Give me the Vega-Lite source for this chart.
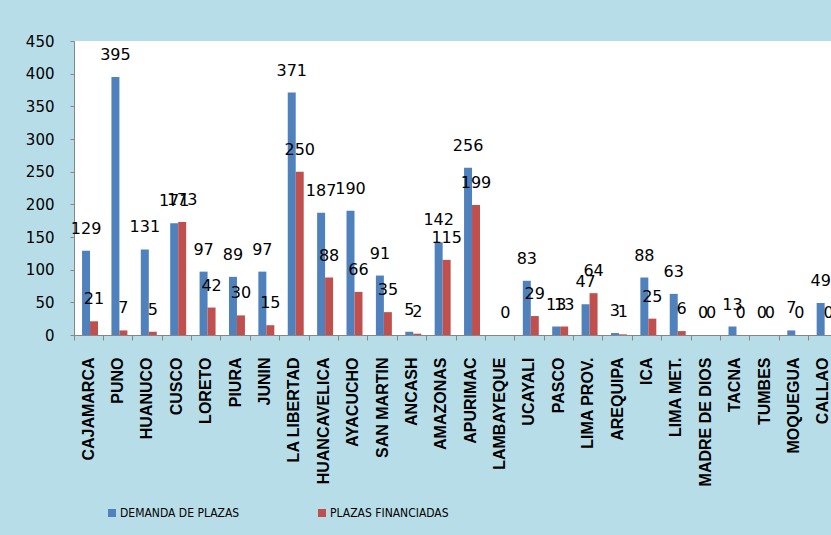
{
  "$schema": "https://vega.github.io/schema/vega-lite/v6.json",
  "autosize": {"type": "none"},
  "padding": {"left": 74, "top": 41, "right": -7, "bottom": 200},
  "width": 764,
  "height": 294,
  "background": "#b7dee8",
  "config": {
    "view": {"fill": "white", "stroke": null},
    "axis": {"domainColor": "#868686", "tickColor": "#868686", "labelColor": "#000000", "grid": false}
  },
  "data": {
    "values": [
      {"dep": "CAJAMARCA", "serie": "DEMANDA DE PLAZAS", "valor": 129},
      {"dep": "CAJAMARCA", "serie": "PLAZAS FINANCIADAS", "valor": 21},
      {"dep": "PUNO", "serie": "DEMANDA DE PLAZAS", "valor": 395},
      {"dep": "PUNO", "serie": "PLAZAS FINANCIADAS", "valor": 7},
      {"dep": "HUANUCO", "serie": "DEMANDA DE PLAZAS", "valor": 131},
      {"dep": "HUANUCO", "serie": "PLAZAS FINANCIADAS", "valor": 5},
      {"dep": "CUSCO", "serie": "DEMANDA DE PLAZAS", "valor": 171},
      {"dep": "CUSCO", "serie": "PLAZAS FINANCIADAS", "valor": 173},
      {"dep": "LORETO", "serie": "DEMANDA DE PLAZAS", "valor": 97},
      {"dep": "LORETO", "serie": "PLAZAS FINANCIADAS", "valor": 42},
      {"dep": "PIURA", "serie": "DEMANDA DE PLAZAS", "valor": 89},
      {"dep": "PIURA", "serie": "PLAZAS FINANCIADAS", "valor": 30},
      {"dep": "JUNIN", "serie": "DEMANDA DE PLAZAS", "valor": 97},
      {"dep": "JUNIN", "serie": "PLAZAS FINANCIADAS", "valor": 15},
      {"dep": "LA LIBERTAD", "serie": "DEMANDA DE PLAZAS", "valor": 371},
      {"dep": "LA LIBERTAD", "serie": "PLAZAS FINANCIADAS", "valor": 250},
      {"dep": "HUANCAVELICA", "serie": "DEMANDA DE PLAZAS", "valor": 187},
      {"dep": "HUANCAVELICA", "serie": "PLAZAS FINANCIADAS", "valor": 88},
      {"dep": "AYACUCHO", "serie": "DEMANDA DE PLAZAS", "valor": 190},
      {"dep": "AYACUCHO", "serie": "PLAZAS FINANCIADAS", "valor": 66},
      {"dep": "SAN MARTIN", "serie": "DEMANDA DE PLAZAS", "valor": 91},
      {"dep": "SAN MARTIN", "serie": "PLAZAS FINANCIADAS", "valor": 35},
      {"dep": "ANCASH", "serie": "DEMANDA DE PLAZAS", "valor": 5},
      {"dep": "ANCASH", "serie": "PLAZAS FINANCIADAS", "valor": 2},
      {"dep": "AMAZONAS", "serie": "DEMANDA DE PLAZAS", "valor": 142},
      {"dep": "AMAZONAS", "serie": "PLAZAS FINANCIADAS", "valor": 115},
      {"dep": "APURIMAC", "serie": "DEMANDA DE PLAZAS", "valor": 256},
      {"dep": "APURIMAC", "serie": "PLAZAS FINANCIADAS", "valor": 199},
      {"dep": "LAMBAYEQUE", "serie": "PLAZAS FINANCIADAS", "valor": 0},
      {"dep": "UCAYALI", "serie": "DEMANDA DE PLAZAS", "valor": 83},
      {"dep": "UCAYALI", "serie": "PLAZAS FINANCIADAS", "valor": 29},
      {"dep": "PASCO", "serie": "DEMANDA DE PLAZAS", "valor": 13},
      {"dep": "PASCO", "serie": "PLAZAS FINANCIADAS", "valor": 13},
      {"dep": "LIMA PROV.", "serie": "DEMANDA DE PLAZAS", "valor": 47},
      {"dep": "LIMA PROV.", "serie": "PLAZAS FINANCIADAS", "valor": 64},
      {"dep": "AREQUIPA", "serie": "DEMANDA DE PLAZAS", "valor": 3},
      {"dep": "AREQUIPA", "serie": "PLAZAS FINANCIADAS", "valor": 1},
      {"dep": "ICA", "serie": "DEMANDA DE PLAZAS", "valor": 88},
      {"dep": "ICA", "serie": "PLAZAS FINANCIADAS", "valor": 25},
      {"dep": "LIMA MET.", "serie": "DEMANDA DE PLAZAS", "valor": 63},
      {"dep": "LIMA MET.", "serie": "PLAZAS FINANCIADAS", "valor": 6},
      {"dep": "MADRE DE DIOS", "serie": "DEMANDA DE PLAZAS", "valor": 0},
      {"dep": "MADRE DE DIOS", "serie": "PLAZAS FINANCIADAS", "valor": 0},
      {"dep": "TACNA", "serie": "DEMANDA DE PLAZAS", "valor": 13},
      {"dep": "TACNA", "serie": "PLAZAS FINANCIADAS", "valor": 0},
      {"dep": "TUMBES", "serie": "DEMANDA DE PLAZAS", "valor": 0},
      {"dep": "TUMBES", "serie": "PLAZAS FINANCIADAS", "valor": 0},
      {"dep": "MOQUEGUA", "serie": "DEMANDA DE PLAZAS", "valor": 7},
      {"dep": "MOQUEGUA", "serie": "PLAZAS FINANCIADAS", "valor": 0},
      {"dep": "CALLAO", "serie": "DEMANDA DE PLAZAS", "valor": 49},
      {"dep": "CALLAO", "serie": "PLAZAS FINANCIADAS", "valor": 0}
    ]
  },
  "encoding": {
    "x": {
      "field": "dep",
      "type": "nominal",
      "title": null,
      "scale": {
        "domain": ["CAJAMARCA", "PUNO", "HUANUCO", "CUSCO", "LORETO", "PIURA", "JUNIN", "LA LIBERTAD", "HUANCAVELICA", "AYACUCHO", "SAN MARTIN", "ANCASH", "AMAZONAS", "APURIMAC", "LAMBAYEQUE", "UCAYALI", "PASCO", "LIMA PROV.", "AREQUIPA", "ICA", "LIMA MET.", "MADRE DE DIOS", "TACNA", "TUMBES", "MOQUEGUA", "CALLAO"],
        "paddingInner": 0,
        "paddingOuter": 0
      },
      "axis": {
        "labelAngle": -90,
        "labelAlign": "right",
        "labelBaseline": "middle",
        "labelFont": "Liberation Sans",
        "labelFontSize": 16,
        "labelFontWeight": 600,
        "labelPadding": 17,
        "tickSize": 5,
        "bandPosition": 0
      }
    },
    "xOffset": {
      "field": "serie",
      "type": "nominal",
      "scale": {"domain": ["DEMANDA DE PLAZAS", "PLAZAS FINANCIADAS"], "paddingOuter": 0.84, "paddingInner": 0, "align": 0.6}
    },
    "y": {
      "field": "valor",
      "type": "quantitative",
      "title": null,
      "scale": {"domain": [0, 450], "nice": false},
      "axis": {
        "values": [0, 50, 100, 150, 200, 250, 300, 350, 400, 450],
        "labelFont": "DejaVu Sans",
        "labelFontSize": 15,
        "labelPadding": 16,
        "tickSize": 4
      }
    }
  },
  "layer": [
    {
      "mark": {"type": "bar"},
      "encoding": {
        "color": {
          "field": "serie",
          "type": "nominal",
          "scale": {"domain": ["DEMANDA DE PLAZAS", "PLAZAS FINANCIADAS"], "range": ["#4f81bd", "#c0504d"]},
          "legend": {
            "title": null,
            "orient": "none",
            "direction": "horizontal",
            "legendX": 32,
            "legendY": 466,
            "symbolType": "square",
            "symbolSize": 64,
            "symbolStrokeWidth": 0,
            "labelFont": "DejaVu Sans Condensed",
            "labelFontSize": 12,
            "labelColor": "#000000",
            "labelOffset": 2,
            "columnPadding": 76
          }
        }
      }
    },
    {
      "mark": {"type": "text", "baseline": "alphabetic", "dy": -17, "font": "DejaVu Sans", "fontSize": 16, "color": "#000000"},
      "encoding": {
        "text": {"field": "valor", "type": "quantitative"}
      }
    }
  ]
}
